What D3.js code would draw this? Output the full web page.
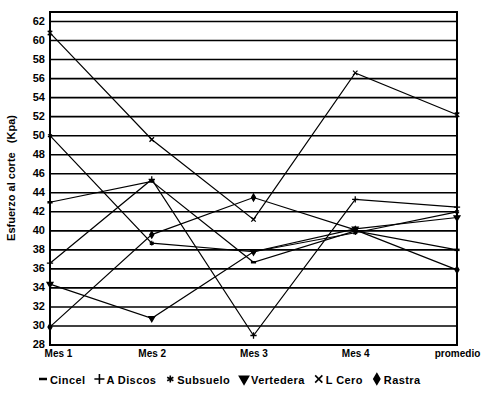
<!DOCTYPE html>
<html>
<head>
<meta charset="utf-8">
<script src="https://cdn.jsdelivr.net/npm/d3@7"></script>
<style>
  body { margin: 0; background: #fff; }
  svg { display: block; font-family: "Liberation Sans", Arial, sans-serif; }
</style>
</head>
<body>
<svg id="chart" width="492" height="402"></svg>
<script>
// -- data -- //
const months = ["Mes 1", "Mes 2", "Mes 3", "Mes 4", "promedio"];
const cincel    = [43.0, 45.2, 36.7, 40.0, 38.0];
const aDiscos   = [36.6, 45.4, 29.0, 43.3, 42.5];
const subsuelo  = [50.0, 38.7, 37.8, 39.8, 42.0];
const vertedera = [34.4, 30.8, 37.8, 40.2, 41.4];
const lCero     = [60.8, 49.6, 41.2, 56.6, 52.2];
const rastra    = [29.9, 39.6, 43.5, 40.1, 35.9];
const seriesNames = ["Cincel", "A Discos", "Subsuelo", "Vertedera", "L Cero", "Rastra"];
const yTicks = [28, 30, 32, 34, 36, 38, 40, 42, 44, 46, 48, 50, 52, 54, 56, 58, 60, 62];
const yLabel = "Esfuerzo al corte   (Kpa)";

const seriesValues = [cincel, aDiscos, subsuelo, vertedera, lCero, rastra];
const markers = ["dash", "plus", "asterisk", "triangleDown", "x", "diamond"];

let svg = d3.select("#chart");
let plotLeft = 50, plotRight = 457, plotTop = 12, plotBottom = 345;

let xScale = d3.scalePoint().domain(months).range([plotLeft, plotRight]);
let yScale = d3.scaleLinear().domain([28, 63]).range([plotBottom, plotTop]);

let plot = svg.append("g");

// -- horizontal grid lines -- //
plot.selectAll(".grid")
  .data(yTicks.filter(d => d > 28))
  .enter()
  .append("line")
  .attr("x1", plotLeft).attr("x2", plotRight)
  .attr("y1", d => yScale(d)).attr("y2", d => yScale(d))
  .style("stroke", "#000")
  .style("stroke-width", 1.6);

// -- frame -- //
plot.append("rect")
  .attr("x", plotLeft).attr("y", plotTop)
  .attr("width", plotRight - plotLeft).attr("height", plotBottom - plotTop)
  .style("fill", "none")
  .style("stroke", "#000")
  .style("stroke-width", 2);

// -- y axis -- //
let yAxis = d3.axisLeft(yScale).tickValues(yTicks).tickSize(0).tickPadding(5);
svg.append("g")
  .attr("transform", `translate(${plotLeft}, 0)`)
  .call(yAxis)
  .call(g => g.select(".domain").remove())
  .selectAll("text")
  .attr("dy", "0.25em")
  .style("font-size", "11px")
  .style("font-weight", "bold")
  .style("fill", "#000");

// -- x axis -- //
let xAxis = d3.axisBottom(xScale).tickSize(0).tickPadding(5);
svg.append("g")
  .attr("transform", `translate(0, ${plotBottom})`)
  .call(xAxis)
  .call(g => g.select(".domain").remove())
  .selectAll("text")
  .attr("dx", (d, i) => i === 0 ? "8px" : "0px")
  .style("font-size", "10px")
  .style("font-weight", "bold")
  .style("fill", "#000");

// -- y label -- //
svg.append("text")
  .attr("transform", `translate(15, 178) rotate(-90)`)
  .attr("text-anchor", "middle")
  .style("font-size", "11px")
  .style("font-weight", "bold")
  .style("white-space", "pre")
  .text(yLabel);

// -- marker shapes -- //
let markerPath = (type, s) => {
  if (type === "dash") return `M${-s},0H${s}`;
  if (type === "plus") return d3.symbol(d3.symbolPlus, s * s * 2.2)();
  if (type === "asterisk") return d3.symbol(d3.symbolAsterisk, s * s * 2.2)();
  if (type === "x") return d3.symbol(d3.symbolX, s * s * 2.2)();
  if (type === "diamond") return d3.symbol(d3.symbolDiamond, s * s * 2)();
  if (type === "triangleDown") return d3.symbol(d3.symbolTriangle, s * s * 2.2)();
};
let filled = t => t === "diamond" || t === "triangleDown";

// -- lines -- //
let line = d3.line()
  .x((d, i) => xScale(months[i]))
  .y(d => yScale(d));

seriesValues.forEach((vals, k) => {
  plot.append("path")
    .datum(vals)
    .attr("d", line)
    .style("fill", "none")
    .style("stroke", "#000")
    .style("stroke-width", 1.2);

  plot.selectAll(`.m${k}`)
    .data(vals)
    .enter()
    .append("path")
    .attr("class", `m${k}`)
    .attr("d", markerPath(markers[k], 2.6))
    .attr("transform", (d, i) => `translate(${xScale(months[i])}, ${yScale(d)})` + (markers[k] === "triangleDown" ? " rotate(180)" : ""))
    .style("fill", filled(markers[k]) ? "#000" : "none")
    .style("stroke", "#000")
    .style("stroke-width", markers[k] === "dash" ? 2.5 : 1.3);
});

// -- legend -- //
let legend = svg.append("g").attr("transform", "translate(38, 380)");
let lx = 0;
seriesNames.forEach((name, k) => {
  let item = legend.append("g").attr("transform", `translate(${lx}, 0)`);
  item.append("path")
    .attr("d", markerPath(markers[k], 4))
    .attr("transform", `translate(5, -1)` + (markers[k] === "triangleDown" ? " rotate(180)" : ""))
    .style("fill", filled(markers[k]) ? "#000" : "none")
    .style("stroke", "#000")
    .style("stroke-width", markers[k] === "dash" ? 2.5 : 1.6);
  let t = item.append("text")
    .attr("x", 12)
    .attr("y", 4)
    .style("font-size", "11px")
    .style("font-weight", "bold")
    .style("letter-spacing", "0.4px")
    .text(name);
  lx += 12 + t.node().getComputedTextLength() + 9;
});
</script>
</body>
</html>
